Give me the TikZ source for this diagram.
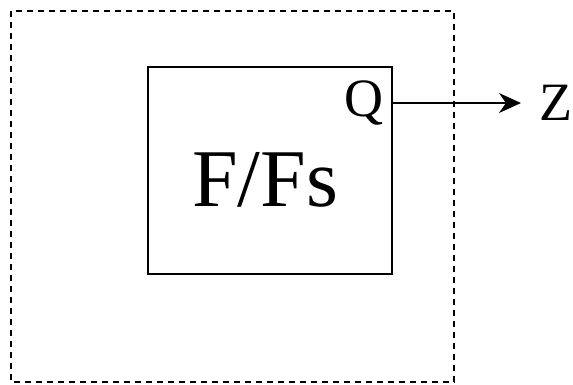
\documentclass[tikz,border=0pt]{standalone}
\usepackage{fontspec}
\setmainfont{Liberation Serif}
\usetikzlibrary{arrows.meta}

\begin{document}
\begin{tikzpicture}
[
	x=1pt, y=-1pt,
	outerbox/.style={draw,line width=1.4pt,dash pattern=on 6pt off 5pt},
	blockbox/.style={draw,line width=1.6pt},
	sig/.style={line width=1.4pt,-{Stealth[length=22pt,width=20pt,inset=7pt]}}
]

	\useasboundingbox (0,0) rectangle (573,384);

	% boundary
	\draw[outerbox] (11,11) rectangle (454,382);

	% block
	\draw[blockbox] (148,67) rectangle (392,274);
	\node[font=\fontsize{82}{82}\selectfont] (fs) at (265,180) {F/Fs};
	\node[font=\fontsize{54}{54}\selectfont,anchor=east,inner sep=0pt] (q) at (384,103) {Q};
	\coordinate (qout) at (392,103);

	% output
	\node[font=\fontsize{54}{54}\selectfont,anchor=west,inner sep=0pt] (z) at (539,103) {Z};
	\draw[sig] (qout) -- ([xshift=-18pt]z.west);

\end{tikzpicture}
\end{document}
